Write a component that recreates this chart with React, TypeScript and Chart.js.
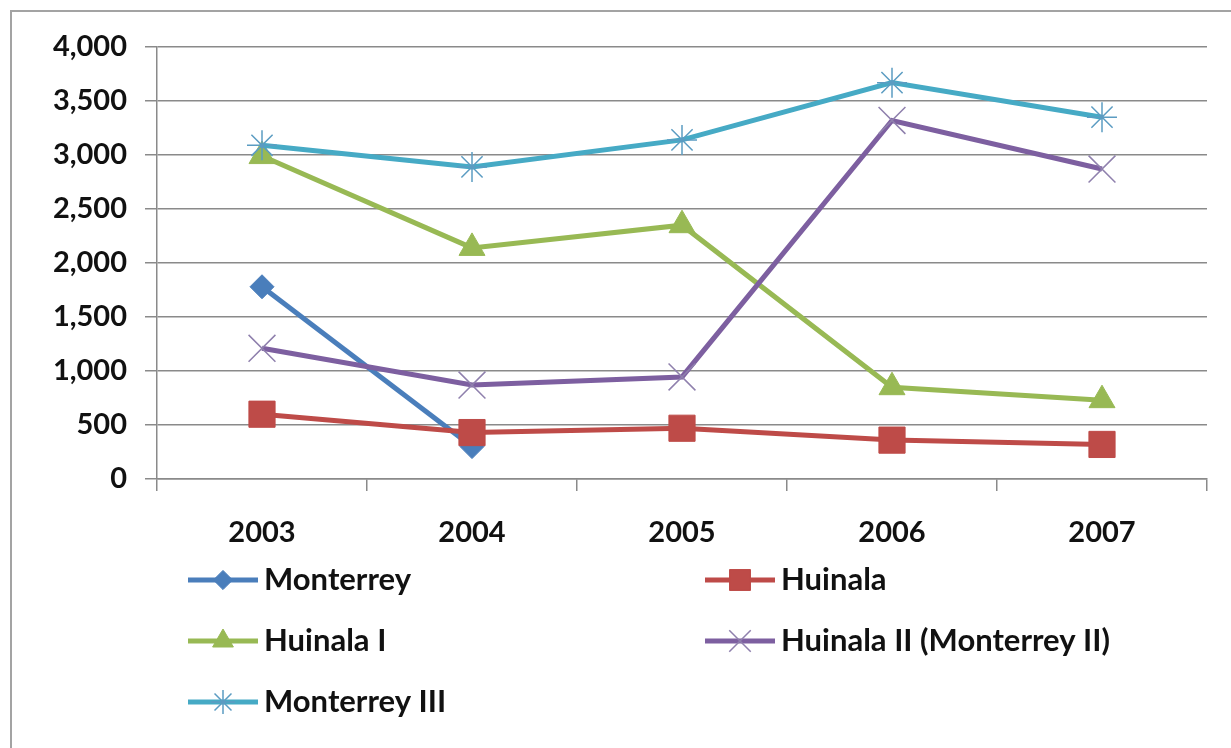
import React, { useEffect, useRef } from "react";
import { Chart, registerables } from "chart.js";

Chart.register(...registerables);

const categories = ["2003", "2004", "2005", "2006", "2007"];
const seriesNames = ["Monterrey", "Huinala", "Huinala I", "Huinala II (Monterrey II)", "Monterrey III"];
const monterrey = [1780, 300, null, null, null];
const huinala = [600, 430, 470, 360, 320];
const huinalaI = [2990, 2140, 2350, 850, 730];
const huinalaII = [1210, 870, 945, 3320, 2870];
const monterreyIII = [3090, 2890, 3140, 3670, 3350];
const yTicks = [0, 500, 1000, 1500, 2000, 2500, 3000, 3500, 4000];

const FONT = "Lato, 'DejaVu Sans', sans-serif";
const WEIGHT = "bold";
const GRID = "#8a8a8a";

type Style = { line: string; fill: string; stroke: string; style: string; r: number; bw: number };
const styles: Style[] = [
  { line: "#4A7EBB", fill: "#4A7EBB", stroke: "#4A7EBB", style: "rectRot", r: 12, bw: 1 },
  { line: "#BE4B48", fill: "#BE4B48", stroke: "#BE4B48", style: "rect", r: 18.5, bw: 1 },
  { line: "#98B954", fill: "#98B954", stroke: "#98B954", style: "triangle", r: 15, bw: 1 },
  { line: "#7D5FA0", fill: "rgba(0,0,0,0)", stroke: "#8F80AD", style: "crossRot", r: 19, bw: 1.5 },
  { line: "#46AAC5", fill: "rgba(0,0,0,0)", stroke: "#5B9CC2", style: "star", r: 15, bw: 1.5 },
];

function drawMarker(ctx: CanvasRenderingContext2D, s: Style, x: number, y: number, scale: number) {
  const r = s.r * scale;
  ctx.save();
  ctx.fillStyle = s.fill;
  ctx.strokeStyle = s.stroke;
  ctx.lineWidth = s.bw;
  ctx.beginPath();
  if (s.style === "rectRot") {
    ctx.moveTo(x - r, y);
    ctx.lineTo(x, y - r);
    ctx.lineTo(x + r, y);
    ctx.lineTo(x, y + r);
    ctx.closePath();
    ctx.fill();
    ctx.stroke();
  } else if (s.style === "rect") {
    const h = Math.SQRT1_2 * r;
    ctx.rect(x - h, y - h, 2 * h, 2 * h);
    ctx.fill();
    ctx.stroke();
  } else if (s.style === "triangle") {
    ctx.moveTo(x, y - r);
    ctx.lineTo(x + 0.866 * r, y + r / 2);
    ctx.lineTo(x - 0.866 * r, y + r / 2);
    ctx.closePath();
    ctx.fill();
    ctx.stroke();
  } else if (s.style === "crossRot") {
    const d = Math.SQRT1_2 * r;
    ctx.moveTo(x - d, y - d);
    ctx.lineTo(x + d, y + d);
    ctx.moveTo(x - d, y + d);
    ctx.lineTo(x + d, y - d);
    ctx.stroke();
  } else if (s.style === "star") {
    const d = Math.SQRT1_2 * r;
    ctx.moveTo(x, y - r);
    ctx.lineTo(x, y + r);
    ctx.moveTo(x - r, y);
    ctx.lineTo(x + r, y);
    ctx.moveTo(x - d, y - d);
    ctx.lineTo(x + d, y + d);
    ctx.moveTo(x - d, y + d);
    ctx.lineTo(x + d, y - d);
    ctx.stroke();
  }
  ctx.restore();
}

const legendSlots = [
  { x: 188, y: 580 },
  { x: 705, y: 580 },
  { x: 188, y: 641 },
  { x: 705, y: 641 },
  { x: 188, y: 702 },
];

const legendPlugin = {
  id: "excelLegend",
  afterDraw(chart: any) {
    const ctx: CanvasRenderingContext2D = chart.ctx;
    seriesNames.forEach((name, i) => {
      const slot = legendSlots[i];
      const s = styles[i];
      ctx.save();
      ctx.strokeStyle = s.line;
      ctx.lineWidth = 5;
      ctx.beginPath();
      ctx.moveTo(slot.x, slot.y);
      ctx.lineTo(slot.x + 70, slot.y);
      ctx.stroke();
      ctx.restore();
      drawMarker(ctx, s, slot.x + 35, slot.y, 0.8);
      ctx.save();
      ctx.fillStyle = "#111";
      ctx.font = `${WEIGHT} 31px ${FONT}`;
      ctx.textBaseline = "middle";
      ctx.textAlign = "left";
      ctx.fillText(name, slot.x + 76, slot.y);
      ctx.restore();
    });
  },
};

export default function App() {
  const ref = useRef<HTMLCanvasElement | null>(null);

  useEffect(() => {
    if (!ref.current) return;
    const seriesData = [monterrey, huinala, huinalaI, huinalaII, monterreyIII];
    const chart = new Chart(ref.current, {
      type: "line",
      data: {
        labels: categories,
        datasets: seriesData.map((d, i) => ({
          label: seriesNames[i],
          data: d,
          borderColor: styles[i].line,
          backgroundColor: styles[i].fill,
          borderWidth: 5,
          pointStyle: styles[i].style as any,
          pointRadius: styles[i].r,
          pointBackgroundColor: styles[i].fill,
          pointBorderColor: styles[i].stroke,
          pointBorderWidth: styles[i].bw,
          tension: 0,
          spanGaps: false,
          fill: false,
          order: 5 - i,
        })),
      },
      options: {
        responsive: false,
        animation: false,
        events: [],
        layout: { padding: { left: 0, top: 47, right: 24, bottom: 0 } },
        plugins: {
          legend: { display: false },
          tooltip: { enabled: false },
          title: { display: false },
        },
        scales: {
          x: {
            type: "category",
            offset: true,
            grid: {
              offset: true,
              drawOnChartArea: false,
              drawTicks: true,
              tickLength: 12,
              color: GRID,
              lineWidth: 1.5,
            },
            border: { display: true, color: GRID, width: 1.5 },
            ticks: {
              color: "#111",
              padding: 24,
              font: { family: FONT, size: 29, weight: WEIGHT },
              maxRotation: 0,
            },
            afterFit(scale: any) {
              scale.height = 748 - 479;
            },
          },
          y: {
            min: 0,
            max: 4000,
            afterBuildTicks(scale: any) {
              scale.ticks = yTicks.map((v) => ({ value: v }));
            },
            grid: {
              color: GRID,
              lineWidth: 1.5,
              drawTicks: true,
              tickLength: 12,
            },
            border: { display: true, color: GRID, width: 1.5 },
            ticks: {
              color: "#111",
              padding: 18,
              font: { family: FONT, size: 29, weight: WEIGHT },
              callback: (v: any) => Number(v).toLocaleString("en-US"),
            },
            afterFit(scale: any) {
              scale.width = 157;
            },
          },
        },
      },
      plugins: [legendPlugin],
    });
    return () => chart.destroy();
  }, []);

  return (
    <div
      style={{
        position: "fixed",
        left: 0,
        top: 0,
        width: 1231,
        height: 748,
        overflow: "hidden",
        background: "#fff",
      }}
    >
      <div
        style={{
          position: "absolute",
          left: 10,
          top: 10,
          width: 1400,
          height: 900,
          border: "2px solid #a3a3a3",
        }}
      />
      <canvas
        ref={ref}
        width={1231}
        height={748}
        style={{ position: "absolute", left: 0, top: 0, width: 1231, height: 748 }}
      />
    </div>
  );
}
